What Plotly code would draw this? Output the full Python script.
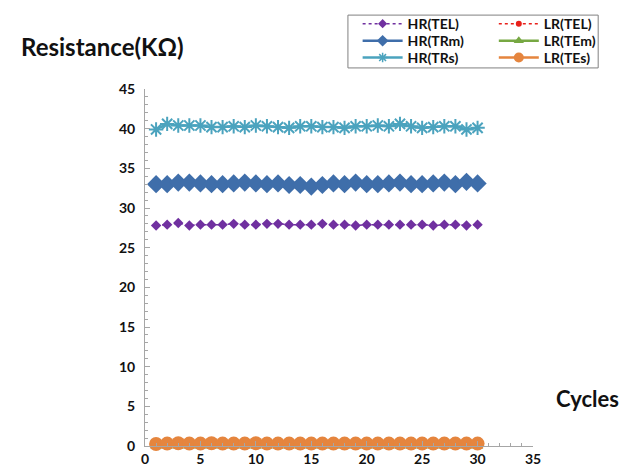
import plotly.graph_objects as go

# Cycle index
cycles = list(range(1, 31))

# High-resistance states (KΩ)
hr_tel = [27.8, 27.9, 28.1, 27.8, 27.9, 27.9, 27.9, 28.0, 27.9, 27.9,
          28.0, 28.0, 27.9, 27.9, 27.9, 28.0, 27.9, 27.9, 27.8, 27.9,
          27.9, 27.9, 27.9, 27.9, 27.9, 27.8, 27.9, 27.9, 27.8, 27.9]
hr_trm = [33.0, 33.0, 33.2, 33.2, 33.1, 33.0, 33.0, 33.1, 33.2, 33.1,
          33.0, 33.1, 32.9, 32.9, 32.7, 32.9, 33.1, 33.0, 33.2, 33.0,
          33.0, 33.1, 33.2, 33.0, 33.0, 33.1, 33.2, 33.0, 33.3, 33.1]
hr_trs = [39.9, 40.6, 40.4, 40.4, 40.4, 40.2, 40.2, 40.3, 40.2, 40.4,
          40.3, 40.2, 40.1, 40.3, 40.3, 40.2, 40.2, 40.1, 40.3, 40.3,
          40.4, 40.3, 40.6, 40.3, 40.1, 40.2, 40.3, 40.3, 39.9, 40.1]

# Low-resistance states (KΩ)
lr_tel = [0.15] * 30
lr_tem = [0.0] * 30
lr_tes = [0.25, 0.3, 0.35, 0.3, 0.3, 0.35, 0.3, 0.3, 0.3, 0.35,
          0.3, 0.3, 0.3, 0.3, 0.3, 0.3, 0.3, 0.3, 0.3, 0.3,
          0.3, 0.3, 0.3, 0.3, 0.3, 0.3, 0.3, 0.3, 0.3, 0.3]

x_ticks = [0, 5, 10, 15, 20, 25, 30, 35]
y_ticks = [0, 5, 10, 15, 20, 25, 30, 35, 40, 45]

FONT = "Lato"

# name, values, colour, line width, dash, symbol, plot size, key size
series = [
    ("HR(TEL)", hr_tel, "#7030A0", 1.5, "dot", "diamond", 8, 7),
    ("LR(TEL)", lr_tel, "#E8201A", 1.5, "dot", "circle", 6, 6),
    ("HR(TRm)", hr_trm, "#3F6EAA", 2.5, "solid", "diamond", 14, 9),
    ("LR(TEm)", lr_tem, "#77A843", 2.5, "solid", "triangle-up", 10, 9),
    ("HR(TRs)", hr_trs, "#4BA3BE", 2.5, "solid", "asterisk-open", 12, 8),
    ("LR(TEs)", lr_tes, "#E5853E", 2.5, "solid", "circle", 14, 10),
]

# key grid: two columns, three rows (paper coordinates)
key_cols = [0.548, 0.899]
key_rows = [1.182, 1.134, 1.087]

fig = go.Figure()

legend_layouts = {}
for i, (name, vals, color, lw, dash, sym, size, key_size) in enumerate(series):
    is_open = sym.endswith("open")
    # plotted series
    fig.add_trace(go.Scatter(
        x=cycles, y=vals, name=name, mode="lines+markers", showlegend=False,
        line=dict(color=color, width=lw, dash=dash),
        marker=dict(symbol=sym, size=size, color=color,
                    line=dict(color=color, width=2) if is_open else dict(width=0)),
        cliponaxis=False))
    # compact legend key for the same series
    leg_id = "legend" if i == 0 else f"legend{i + 1}"
    fig.add_trace(go.Scatter(
        x=[None], y=[None], name=name, mode="lines+markers", legend=leg_id,
        line=dict(color=color, width=lw, dash=dash),
        marker=dict(symbol=sym, size=key_size, color=color,
                    line=dict(color=color, width=1.5) if is_open else dict(width=0))))
    legend_layouts[leg_id] = dict(
        x=key_cols[i % 2], y=key_rows[i // 2],
        xanchor="left", yanchor="middle",
        bgcolor="rgba(0,0,0,0)", borderwidth=0, itemwidth=40,
        font=dict(family=FONT, size=14, color="#111111", weight="bold"),
    )

fig.update_layout(
    width=621, height=474,
    margin=dict(l=145, r=88, t=89, b=28, autoexpand=False),
    plot_bgcolor="white", paper_bgcolor="white",
    font=dict(family=FONT, size=13, color="#111111"),
    showlegend=True,
    xaxis=dict(
        range=[0, 35], tickvals=x_ticks, showgrid=False, zeroline=False,
        showline=True, linecolor="#A6A6A6", linewidth=1,
        ticks="inside", ticklen=5, tickcolor="#A6A6A6",
        minor=dict(dtick=1, ticks="inside", ticklen=3, tickcolor="#A6A6A6"),
        tickfont=dict(family=FONT, size=14, color="#111111", weight="bold"),
    ),
    yaxis=dict(
        range=[0, 45], tickvals=y_ticks, showgrid=False, zeroline=False,
        showline=True, linecolor="#A6A6A6", linewidth=1,
        ticks="inside", ticklen=5, tickcolor="#A6A6A6",
        minor=dict(dtick=1, ticks="inside", ticklen=3, tickcolor="#A6A6A6"),
        tickfont=dict(family=FONT, size=14, color="#111111", weight="bold"),
        ticklabelstandoff=6,
    ),
    shapes=[dict(type="rect", xref="paper", yref="paper",
                 x0=0.523, x1=1.168, y0=1.059, y1=1.207,
                 line=dict(color="#808080", width=1), fillcolor="rgba(0,0,0,0)")],
    annotations=[
        dict(text="Resistance(KΩ)", xref="paper", yref="paper",
             x=-0.325, y=1.118, xanchor="left", yanchor="middle", showarrow=False,
             font=dict(family=FONT, size=24, color="#111111", weight="bold")),
        dict(text="Cycles", xref="paper", yref="paper",
             x=1.053, y=0.134, xanchor="left", yanchor="middle", showarrow=False,
             font=dict(family=FONT, size=22, color="#111111", weight="bold")),
    ],
)
fig.update_layout(**legend_layouts)

fig.write_html("out.html")
